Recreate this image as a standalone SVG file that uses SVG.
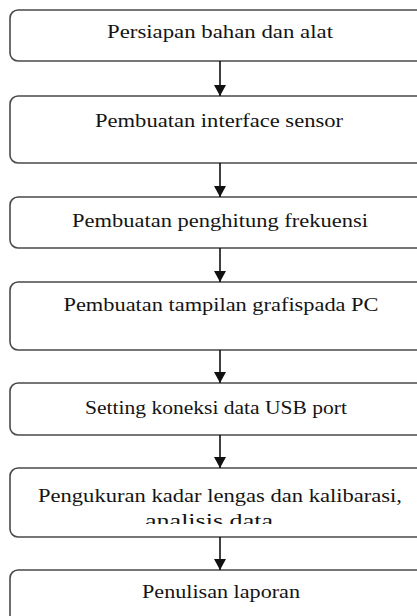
<svg xmlns="http://www.w3.org/2000/svg" width="417" height="616" viewBox="0 0 417 616">
  <style>
    .box { fill: #ffffff; stroke: #4a4a4a; stroke-width: 1.6; }
    .lbl { font-family: "Liberation Serif", "Times New Roman", serif; font-size: 18px; fill: #141414; text-anchor: middle; }
    .conn line { stroke: #111111; stroke-width: 1.6; }
  </style>
  <defs>
    <marker id="arrow" markerWidth="11" markerHeight="12" refX="11" refY="6" orient="auto" markerUnits="userSpaceOnUse">
      <path d="M0,0 L11,6 L0,12 Z" fill="#111111"/>
    </marker>
    <clipPath id="clip6">
      <rect x="10" y="468" width="420" height="56"/>
    </clipPath>
  </defs>
  <rect width="417" height="616" fill="#ffffff"/>

  <g id="n1">
    <rect class="box" x="10" y="10" width="430" height="51" rx="8"/>
    <text class="lbl" x="220" y="38" textLength="226" lengthAdjust="spacingAndGlyphs">Persiapan bahan dan alat</text>
  </g>
  <g id="n2">
    <rect class="box" x="10" y="96" width="430" height="67" rx="8"/>
    <text class="lbl" x="219" y="127" textLength="248" lengthAdjust="spacingAndGlyphs">Pembuatan interface sensor</text>
  </g>
  <g id="n3">
    <rect class="box" x="10" y="197" width="430" height="51" rx="8"/>
    <text class="lbl" x="220" y="227" textLength="296" lengthAdjust="spacingAndGlyphs">Pembuatan penghitung frekuensi</text>
  </g>
  <g id="n4">
    <rect class="box" x="10" y="282" width="430" height="68" rx="8"/>
    <text class="lbl" x="221" y="311" textLength="315" lengthAdjust="spacingAndGlyphs">Pembuatan tampilan grafispada PC</text>
  </g>
  <g id="n5">
    <rect class="box" x="10" y="383" width="430" height="52" rx="8"/>
    <text class="lbl" x="216" y="414" textLength="262" lengthAdjust="spacingAndGlyphs">Setting koneksi data USB port</text>
  </g>
  <g id="n6">
    <rect class="box" x="10" y="468" width="430" height="69" rx="8"/>
    <text class="lbl" x="220" y="502" textLength="364" lengthAdjust="spacingAndGlyphs">Pengukuran kadar lengas dan kalibarasi,</text>
    <text class="lbl" x="209" y="527" textLength="128" lengthAdjust="spacingAndGlyphs" clip-path="url(#clip6)">analisis data</text>
  </g>
  <g id="n7">
    <rect class="box" x="10" y="570" width="430" height="70" rx="8"/>
    <text class="lbl" x="221" y="598" textLength="158" lengthAdjust="spacingAndGlyphs">Penulisan laporan</text>
  </g>

  <g id="connectors" class="conn">
    <line x1="220" y1="61" x2="220" y2="96" marker-end="url(#arrow)"/>
    <line x1="220" y1="163" x2="220" y2="197" marker-end="url(#arrow)"/>
    <line x1="220" y1="248" x2="220" y2="282" marker-end="url(#arrow)"/>
    <line x1="220" y1="350" x2="220" y2="383" marker-end="url(#arrow)"/>
    <line x1="220" y1="435" x2="220" y2="468" marker-end="url(#arrow)"/>
    <line x1="220" y1="537" x2="220" y2="570" marker-end="url(#arrow)"/>
  </g>
</svg>
